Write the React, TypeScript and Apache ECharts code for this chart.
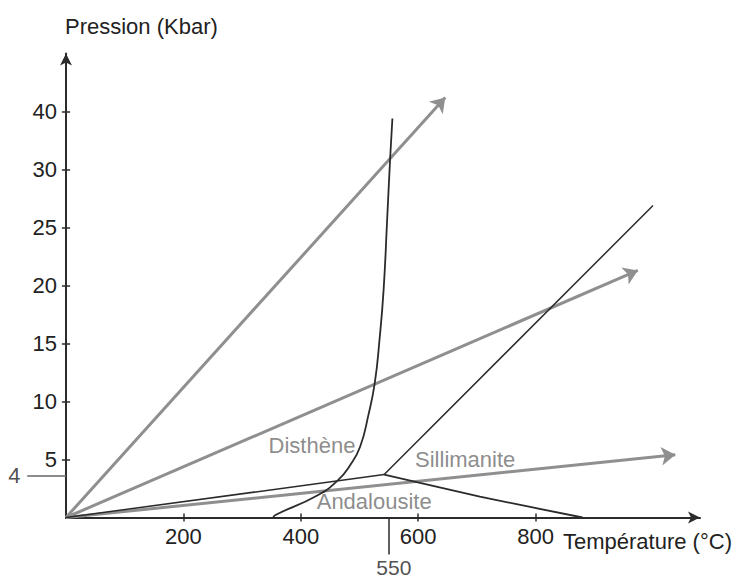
import React, { useEffect, useRef } from 'react';
import * as echarts from 'echarts';

// Axis ticks (x in °C; y in schematic plot units, the top tick is labelled 40)
const xTicks = [200, 400, 600, 800];
const yTickPositions = [5, 10, 15, 20, 25, 30, 35];
const yTickLabels = ['5', '10', '15', '20', '25', '30', '40'];

// Gray geotherm arrows
const arrowSteep = [[0, 0], [646, 36.2]];
const arrowMid = [[0, 0], [974, 21.3]];
const arrowLow = [[0, 0], [1038, 5.4]];

// Phase boundaries
const triplePoint = [542, 3.7];
const curveJ = [
  [556, 34.4], [552, 30.8], [547, 25.6], [541, 19.6], [534, 15.3], [526, 11.6],
  [515, 8.8], [501, 6.1], [484, 4.5], [463, 3.2], [428, 1.9], [356, 0.2], [353, 0],
];
const kySilLine = [triplePoint, [1000, 26.9]];
const andKyLine = [[0, 0], triplePoint];
const andSilLine = [triplePoint, [705, 1.8], [880, 0]];

// Reference marks outside the axes
const markP4 = [[-66, 3.6], [0, 3.6]];
const markT550 = [[550, 0], [550, -3.2]];

// Field labels
const fieldLabels = [
  { name: 'Disthène', value: [419, 6.25] },
  { name: 'Sillimanite', value: [680, 5.0] },
  { name: 'Andalousite', value: [525, 1.4] },
];

const FONT = "'Liberation Sans', Arial, sans-serif";

export default function App() {
  const ref = useRef<HTMLDivElement>(null);
  useEffect(() => {
    document.body.style.margin = '0';
    const chart = echarts.init(ref.current!, null, { renderer: 'svg' });
    const dark = '#2b2b2b';
    const gray = '#8f8f8f';
    // cross-shaped tick marks (half-length in data units of each axis)
    const yTickHalf = 7; // x units
    const xTickHalf = 0.35; // y units
    const tickSegments = [
      ...yTickPositions.map((v) => ({ coords: [[-yTickHalf, v], [yTickHalf, v]] })),
      ...xTicks.map((v) => ({ coords: [[v, -xTickHalf], [v, xTickHalf]] })),
    ];
    chart.setOption({
      animation: false,
      backgroundColor: '#ffffff',
      grid: { left: 66, right: 36, top: 53.5, bottom: 63.5 },
      xAxis: {
        type: 'value',
        min: 0,
        max: 1080,
        splitLine: { show: false },
        axisLine: { show: true, symbol: ['none', 'arrow'], symbolSize: [9, 12], lineStyle: { color: dark, width: 2 } },
        axisTick: { show: false },
        axisLabel: { customValues: xTicks, margin: 8, color: '#222', fontSize: 22, fontFamily: FONT },
      },
      yAxis: {
        type: 'value',
        min: 0,
        max: 40,
        splitLine: { show: false },
        axisLine: { show: true, symbol: ['none', 'arrow'], symbolSize: [9, 12], lineStyle: { color: dark, width: 2 } },
        axisTick: { show: false },
        axisLabel: {
          customValues: yTickPositions,
          margin: 9,
          color: '#222',
          fontSize: 22,
          fontFamily: FONT,
          formatter: (v: number) => {
            const i = yTickPositions.indexOf(v);
            return i >= 0 ? yTickLabels[i] : '';
          },
        },
      },
      graphic: [
        { type: 'text', x: 65, y: 26, style: { text: 'Pression (Kbar)', fill: '#222', font: `22px ${FONT}`, verticalAlign: 'middle' } },
        { type: 'text', x: 563, y: 541, style: { text: 'Température (°C)', fill: '#222', font: `22px ${FONT}`, verticalAlign: 'middle' } },
      ],
      series: [
        {
          type: 'lines',
          coordinateSystem: 'cartesian2d',
          symbol: ['none', 'arrow'],
          symbolSize: 14,
          lineStyle: { color: gray, width: 3, opacity: 1 },
          data: [{ coords: arrowSteep }, { coords: arrowMid }, { coords: arrowLow }],
          z: 3,
        },
        {
          type: 'lines',
          coordinateSystem: 'cartesian2d',
          clip: false,
          symbol: 'none',
          lineStyle: { color: dark, width: 1.5, opacity: 1 },
          data: [...tickSegments, { coords: markT550 }],
          z: 4,
        },
        {
          type: 'lines',
          coordinateSystem: 'cartesian2d',
          clip: false,
          symbol: 'none',
          lineStyle: { color: '#666', width: 1.5, opacity: 1 },
          data: [{ coords: markP4 }],
          z: 4,
        },
        {
          type: 'line', data: curveJ, smooth: 0.5, symbol: 'none',
          lineStyle: { color: dark, width: 1.8 }, z: 4,
        },
        { type: 'line', data: kySilLine, symbol: 'none', lineStyle: { color: dark, width: 1.5 }, z: 4 },
        { type: 'line', data: andKyLine, symbol: 'none', lineStyle: { color: dark, width: 1.5 }, z: 4 },
        { type: 'line', data: andSilLine, smooth: 0.2, symbol: 'none', lineStyle: { color: dark, width: 1.8 }, z: 4 },
        {
          type: 'scatter',
          clip: false,
          symbolSize: 1,
          itemStyle: { color: 'rgba(0,0,0,0)' },
          label: { show: true, position: 'inside', formatter: '{b}', color: '#6e6e6e', fontSize: 22, fontFamily: FONT },
          data: [
            ...fieldLabels,
            { name: '4', value: [-88, 3.6], label: { color: '#222', fontSize: 22 } },
            { name: '550', value: [550, -4.35], label: { color: '#222', fontSize: 21, offset: [5, 0] } },
          ],
          z: 5,
        },
      ],
    });
    return () => chart.dispose();
  }, []);
  return <div ref={ref} style={{ position: 'absolute', left: 0, top: 0, width: 736, height: 581 }} />;
}
